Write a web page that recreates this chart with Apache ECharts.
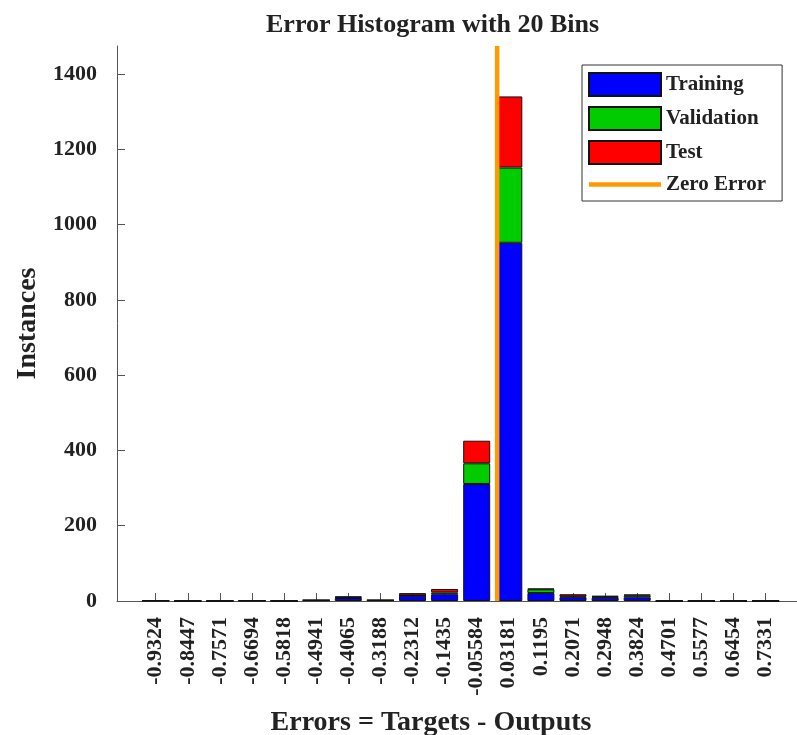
<!DOCTYPE html>
<html>
<head>
<meta charset="utf-8">
<script src="https://cdn.jsdelivr.net/npm/echarts@6/dist/echarts.min.js"></script>
<style>
  html, body { margin: 0; padding: 0; background: #fff; }
  #chart { width: 797px; height: 735px; }
</style>
</head>
<body>
<div id="chart"></div>
<script>
// Bin centres (as printed under each bar)
const binLabels = ['-0.9324', '-0.8447', '-0.7571', '-0.6694', '-0.5818', '-0.4941', '-0.4065',
  '-0.3188', '-0.2312', '-0.1435', '-0.05584', '0.03181', '0.1195', '0.2071', '0.2948',
  '0.3824', '0.4701', '0.5577', '0.6454', '0.7331'];

// Instances per bin for each data split
const training   = [1, 0, 0, 1, 0, 2, 8, 2, 14, 18, 311, 952, 21, 10, 9, 10, 0, 0, 0, 0];
const validation = [0, 0, 0, 0, 0, 0, 2, 0, 1, 5, 55, 200, 10, 2, 2, 5, 0, 0, 0, 0];
const test       = [0, 0, 0, 0, 0, 0, 2, 0, 6, 9, 60, 189, 2, 6, 3, 2, 0, 0, 0, 0];

// Vertical axis ticks
const yTicks = [0, 200, 400, 600, 800, 1000, 1200, 1400];

const centers = binLabels.map(Number);
const labelFor = new Map(binLabels.map(s => [Number(s), s]));
const binWidth = (centers[centers.length - 1] - centers[0]) / (centers.length - 1);
const xMin = centers[0] - 1.206 * binWidth;
const xMax = centers[centers.length - 1] + 0.978 * binWidth;
const yMax = 1475;

const FONT = '"Liberation Serif", "Times New Roman", serif';
const TXT = '#222';
const AXIS = '#555';

// Rows are [count, centre] so the count is the first numeric dimension
// and therefore the one that gets stacked.
function barSeries(name, values, color) {
  return {
    name: name,
    type: 'bar',
    stack: 'bins',
    barWidth: 27,
    encode: { x: 1, y: 0 },
    data: values.map((v, i) => [v, centers[i]]),
    itemStyle: { color: color, borderColor: '#111', borderWidth: 1 }
  };
}

const chart = echarts.init(document.getElementById('chart'), null, { renderer: 'canvas' });
chart.setOption({
  animation: false,
  backgroundColor: '#fff',
  title: {
    text: 'Error Histogram with 20 Bins',
    left: 261,
    top: 7,
    textStyle: { fontFamily: FONT, fontWeight: 'bold', fontSize: 26, color: TXT }
  },
  grid: { left: 117, right: 0, top: 46, bottom: 134, containLabel: false, outerBoundsMode: 'none' },
  legend: {
    orient: 'vertical',
    left: 582,
    top: 65,
    padding: [7, 16, 6, 6],
    itemWidth: 72,
    itemHeight: 23,
    itemGap: 9,
    borderColor: '#333',
    borderWidth: 1,
    backgroundColor: '#fff',
    data: [
      { name: 'Training', icon: 'rect' },
      { name: 'Validation', icon: 'rect' },
      { name: 'Test', icon: 'rect' },
      { name: 'Zero Error', icon: 'path://M0,0H72V4.5H0Z', itemStyle: { color: '#FF9900', borderWidth: 0 } }
    ],
    textStyle: { fontFamily: FONT, fontWeight: 'bold', fontSize: 21, color: TXT }
  },
  xAxis: {
    type: 'value',
    min: xMin,
    max: xMax,
    name: 'Errors = Targets - Outputs',
    nameLocation: 'middle',
    nameGap: 108,
    nameTextStyle: { fontFamily: FONT, fontWeight: 'bold', fontSize: 28, color: TXT, padding: [0, 52, 0, 0] },
    splitLine: { show: false },
    axisLine: { show: true, onZero: false, lineStyle: { color: AXIS, width: 1 } },
    axisTick: { show: true, inside: true, length: 8, customValues: centers, lineStyle: { color: AXIS } },
    axisLabel: {
      customValues: centers,
      rotate: 90,
      margin: 16,
      fontFamily: FONT, fontWeight: 'bold', fontSize: 22, color: TXT,
      formatter: v => labelFor.get(v) || ''
    }
  },
  yAxis: {
    type: 'value',
    min: 0,
    max: yMax,
    name: 'Instances',
    nameLocation: 'middle',
    nameGap: 68,
    nameTextStyle: { fontFamily: FONT, fontWeight: 'bold', fontSize: 28, color: TXT },
    splitLine: { show: false },
    axisLine: { show: true, onZero: false, lineStyle: { color: AXIS, width: 1 } },
    axisTick: { show: true, inside: true, length: 8, customValues: yTicks, lineStyle: { color: AXIS } },
    axisLabel: {
      customValues: yTicks,
      margin: 20,
      fontFamily: FONT, fontWeight: 'bold', fontSize: 22, color: TXT,
      formatter: v => String(v)
    }
  },
  series: [
    barSeries('Training', training, '#0000FF'),
    barSeries('Validation', validation, '#00CC00'),
    barSeries('Test', test, '#FF0000'),
    {
      name: 'Zero Error',
      type: 'line',
      symbol: 'none',
      data: [[0, 0], [0, yMax]],
      lineStyle: { color: '#FF9900', width: 4.5 },
      itemStyle: { color: '#FF9900' },
      z: 5
    }
  ]
});
</script>
</body>
</html>
